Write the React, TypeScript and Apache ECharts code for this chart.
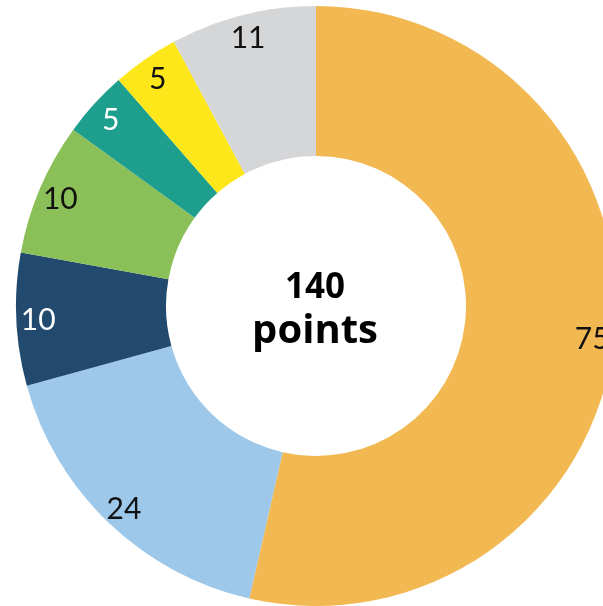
import React, { useEffect, useRef } from "react";
import * as echarts from "echarts";

const categories = ["A", "B", "C", "D", "E", "F", "G"];
const values = [75, 24, 10, 10, 5, 5, 11];
const colors = ["#F2B852", "#9DC8E9", "#214A6E", "#8BC058", "#1E9E8D", "#FDE71A", "#D5D6D8"];
const labelColors = ["#111", "#111", "#fff", "#111", "#fff", "#111", "#111"];
const centerLines = ["140", "points"];

export default function App() {
  const ref = useRef<HTMLDivElement>(null);
  useEffect(() => {
    document.body.style.margin = "0";
    const chart = echarts.init(ref.current!, null, { renderer: "svg" });
    const font = "Lato, 'Open Sans', sans-serif";
    chart.setOption({
      animation: false,
      graphic: [
        {
          type: "text",
          x: 315,
          y: 306,
          style: {
            text: `{a|${centerLines[0]}}\n{b|${centerLines[1]}}`,
            fontFamily: "'Open Sans', sans-serif",
            fontWeight: "bold",
            fill: "#000",
            align: "center",
            verticalAlign: "middle",
            rich: {
              a: { fontSize: 35, lineHeight: 42, fontWeight: "bold", fontFamily: "'Open Sans', sans-serif", fill: "#000" },
              b: { fontSize: 40, lineHeight: 44, fontWeight: "bold", fontFamily: "'Open Sans', sans-serif", fill: "#000" },
            },
          },
        },
      ],
      series: [
        {
          type: "pie",
          center: [316, 306],
          radius: [150, 300],
          startAngle: 90,
          silent: true,
          label: { show: false },
          labelLine: { show: false },
          data: values.map((v, i) => ({ name: categories[i], value: v, itemStyle: { color: colors[i] } })),
        },
        {
          type: "pie",
          center: [316, 306],
          radius: [250, 300],
          startAngle: 90,
          silent: true,
          itemStyle: { color: "rgba(0,0,0,0)" },
          labelLine: { show: false },
          label: { show: true, position: "inside", formatter: "{c}", fontSize: 30, fontFamily: font, fontWeight: "normal" },
          data: values.map((v, i) => ({ name: categories[i], value: v, label: { color: labelColors[i] } })),
        },
      ],
    });
    return () => chart.dispose();
  }, []);
  return <div ref={ref} style={{ position: "fixed", left: 0, top: 0, width: 603, height: 606 }} />;
}
